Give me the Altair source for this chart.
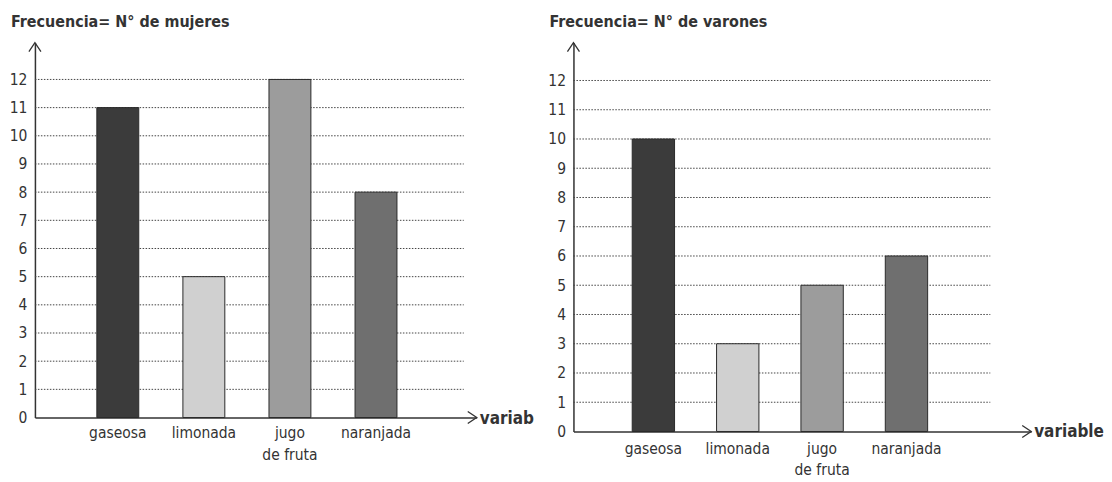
import altair as alt
import pandas as pd

# ---- data ----
categorias = ["gaseosa", "limonada", "jugo|de fruta", "naranjada"]
mujeres = [11, 5, 12, 8]
varones = [10, 3, 5, 6]
colores = ["#3b3b3b", "#d0d0d0", "#9c9c9c", "#6f6f6f"]
ticks = list(range(0, 13))
titulos = ["Frecuencia= N° de mujeres", "Frecuencia= N° de varones"]
eje_x = "variable"

FONT = "DejaVu Sans Condensed, Liberation Sans Narrow, sans-serif"
INK = "#333333"


def panel(values, title, width, height, ymax, pi, po, align, grid_end, lab_pad, line_h, limit):
    df = pd.DataFrame({"cat": categorias, "n": values, "color": colores})
    grid_df = pd.DataFrame({"t": ticks[1:]})
    one = pd.DataFrame({"a": [0]})
    xscale = alt.Scale(domain=categorias, paddingInner=pi, paddingOuter=po, align=align)
    yscale = alt.Scale(domain=[0, ymax], nice=False, zero=True)
    yaxis = alt.Axis(
        title=None,
        values=ticks,
        ticks=False,
        grid=False,
        domain=True,
        domainColor=INK,
        domainWidth=1.5,
        labelFont=FONT,
        labelFontSize=15.5,
        labelColor=INK,
        labelPadding=8,
        labelBaseline="middle",
    )

    grid = alt.Chart(grid_df).mark_rule(
        color="#444444", strokeDash=[1.5, 1.5], strokeWidth=1
    ).encode(
        y=alt.Y("t:Q", scale=yscale, axis=yaxis),
        x=alt.value(0),
        x2=alt.value(grid_end),
    )

    bars = alt.Chart(df).mark_bar(stroke="#2a2a2a", strokeWidth=1).encode(
        x=alt.X(
            "cat:N",
            scale=xscale,
            sort=categorias,
            axis=alt.Axis(
                title=None,
                labelAngle=0,
                ticks=False,
                domain=True,
                domainColor=INK,
                domainWidth=1.5,
                labelExpr="split(datum.label, '|')",
                labelLineHeight=line_h,
                labelFont=FONT,
                labelFontSize=15.5,
                labelColor=INK,
                labelPadding=lab_pad,
                labelBaseline="top",
            ),
        ),
        y=alt.Y("n:Q", scale=yscale, axis=yaxis),
        color=alt.Color("color:N", scale=None, legend=None),
    )

    arrow_y = alt.Chart(one).mark_point(
        shape="M-0.67,1L0,0L0.67,1", size=324, filled=False, stroke=INK, strokeWidth=1.3, opacity=1
    ).encode(x=alt.value(0), y=alt.value(0))

    arrow_x = alt.Chart(one).mark_point(
        shape="M-1,-0.67L0,0L-1,0.67", size=324, filled=False, stroke=INK, strokeWidth=1.3, opacity=1
    ).encode(x=alt.value(width), y=alt.value(height))

    txt_kwargs = dict(
        align="left", baseline="middle", font=FONT, fontSize=17, fontWeight="bold", color=INK
    )
    if limit:
        txt_kwargs.update(limit=limit, ellipsis="\u200b")
    var_text = alt.Chart(one).mark_text(**txt_kwargs).encode(
        x=alt.value(width + 3), y=alt.value(height + 1), text=alt.value(eje_x)
    )

    return alt.layer(grid, bars, arrow_y, arrow_x, var_text).properties(
        width=width,
        height=height,
        title=alt.TitleParams(
            text=title,
            anchor="start",
            frame="group",
            dx=-24,
            offset=-3,
            baseline="alphabetic",
            font=FONT,
            fontSize=16,
            fontWeight="bold",
            color=INK,
        ),
    )


left = panel(mujeres, titulos[0], 443, 376, 376 / 28.25, 0.513, 0.823, 0.437, 430, 8, 22, 57)
right = panel(varones, titulos[1], 459, 390, 390 / 29.33, 0.498, 0.962, 0.362, 418, 10, 21, None)

chart = (
    alt.hconcat(left, right, spacing=97, bounds="flush")
    .properties(padding={"left": 1, "top": 5, "right": 0, "bottom": 0}, background="white")
    .configure_view(stroke=None)
)

chart.save("out.html", embed_options={"renderer": "svg", "actions": False})
